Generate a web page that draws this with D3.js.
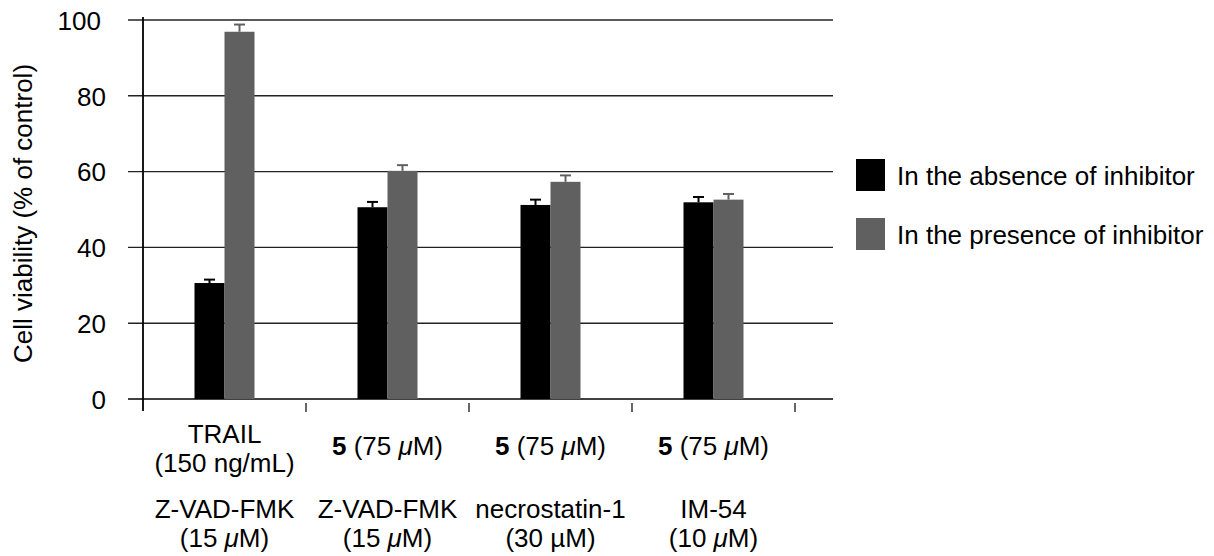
<!DOCTYPE html>
<html>
<head>
<meta charset="utf-8">
<script src="https://cdn.jsdelivr.net/npm/d3@7"></script>
<style>
  html, body { margin: 0; padding: 0; background: #fff; }
  svg text { font-family: "Liberation Sans", Arial, Helvetica, sans-serif; fill: #000; }
</style>
</head>
<body>
<svg id="chart" width="1214" height="556"></svg>
<script>
// Cell viability with and without inhibitor, per treatment group
const groups = ["TRAIL", "5 + Z-VAD-FMK", "5 + necrostatin-1", "5 + IM-54"];
const seriesNames = ["In the absence of inhibitor", "In the presence of inhibitor"];
const absence = [30.6, 50.6, 51.2, 51.9];
const absenceErr = [0.9, 1.4, 1.4, 1.4];
const presence = [96.9, 60.2, 57.3, 52.6];
const presenceErr = [1.9, 1.5, 1.7, 1.5];
const yTicks = [0, 20, 40, 60, 80, 100];
// Axis labels: **bold**, *italic*
const inducerLabels = [["TRAIL", "(150 ng/mL)"], ["**5** (75 *μ*M)"], ["**5** (75 *μ*M)"], ["**5** (75 *μ*M)"]];
const inhibitorLabels = [["Z-VAD-FMK", "(15 *μ*M)"], ["Z-VAD-FMK", "(15 *μ*M)"], ["necrostatin-1", "(30 µM)"], ["IM-54", "(10 *μ*M)"]];
const colors = ["#000000", "#606060"];

const svg = d3.select("#chart");
const FS = 26;

const x0 = d3.scaleBand().domain(groups).range([143, 795]).paddingInner(0).paddingOuter(0);
const x1 = d3.scaleBand().domain([0, 1]).range([x0.bandwidth() / 2 - 30, x0.bandwidth() / 2 + 30]);
const y = d3.scaleLinear().domain([0, 100]).range([399, 20]);

const gridLeft = 128, gridRight = 833;

// Horizontal gridlines (also serve as the y ticks)
svg.append("g").selectAll("line").data(yTicks).join("line")
  .attr("x1", gridLeft).attr("x2", gridRight)
  .attr("y1", d => y(d)).attr("y2", d => y(d))
  .attr("stroke", d => d === 0 ? "#000" : "#222").attr("stroke-width", 1.4);

// Y tick labels
svg.append("g").selectAll("text").data(yTicks).join("text")
  .attr("x", d => d === 100 ? 101 : 106).attr("y", d => y(d)).attr("dy", "0.38em")
  .attr("text-anchor", "end").attr("font-size", FS)
  .text(d => d);

// Y axis line
svg.append("line").attr("x1", 143).attr("x2", 143)
  .attr("y1", y(100) - 3).attr("y2", 411)
  .attr("stroke", "#000").attr("stroke-width", 1.8);

// X ticks at group boundaries
const bounds = groups.map(g => x0(g)).concat([x0(groups[groups.length - 1]) + x0.bandwidth()]);
svg.append("g").selectAll("line").data(bounds.slice(1)).join("line")
  .attr("x1", d => d).attr("x2", d => d)
  .attr("y1", 403).attr("y2", 412)
  .attr("stroke", "#000").attr("stroke-width", 1.2);

// Y axis title
svg.append("text")
  .attr("transform", `translate(32,${(y(0) + y(100)) / 2 + 4}) rotate(-90)`)
  .attr("text-anchor", "middle").attr("font-size", FS)
  .text("Cell viability (% of control)");

// Bars + upper error bars
const series = [
  { vals: absence, errs: absenceErr },
  { vals: presence, errs: presenceErr }
];
const barData = [];
groups.forEach((g, i) => series.forEach((s, k) => barData.push({ g, k, v: s.vals[i], e: s.errs[i] })));

const bars = svg.append("g");
bars.selectAll("rect").data(barData).join("rect")
  .attr("x", d => x0(d.g) + x1(d.k))
  .attr("width", x1.bandwidth())
  .attr("y", d => y(d.v))
  .attr("height", d => y(0) - y(d.v))
  .attr("fill", d => colors[d.k]);

const eb = svg.append("g");
eb.selectAll("line.stem").data(barData).join("line").attr("class", "stem")
  .attr("x1", d => x0(d.g) + x1(d.k) + x1.bandwidth() / 2)
  .attr("x2", d => x0(d.g) + x1(d.k) + x1.bandwidth() / 2)
  .attr("y1", d => y(d.v)).attr("y2", d => y(d.v + d.e))
  .attr("stroke", d => colors[d.k]).attr("stroke-width", 2);
eb.selectAll("line.cap").data(barData).join("line").attr("class", "cap")
  .attr("x1", d => x0(d.g) + x1(d.k) + x1.bandwidth() / 2 - 5.5)
  .attr("x2", d => x0(d.g) + x1(d.k) + x1.bandwidth() / 2 + 5.5)
  .attr("y1", d => y(d.v + d.e)).attr("y2", d => y(d.v + d.e))
  .attr("stroke", d => colors[d.k]).attr("stroke-width", 2);

// Rich-text helper: **bold**, *italic*
function richText(sel, str) {
  const parts = str.split(/(\*\*[^*]+\*\*|\*[^*]+\*)/).filter(p => p.length);
  parts.forEach(p => {
    const t = sel.append("tspan");
    if (p.startsWith("**")) t.attr("font-weight", "bold").text(p.slice(2, -2));
    else if (p.startsWith("*")) t.attr("font-style", "italic").text(p.slice(1, -1));
    else t.text(p);
  });
}

// Category labels
groups.forEach((g, i) => {
  const cx = x0(g) + x0.bandwidth() / 2;
  const ind = inducerLabels[i];
  const indY = ind.length === 2 ? [443, 472] : [455];
  ind.forEach((line, j) => {
    const t = svg.append("text").attr("x", cx).attr("y", indY[j])
      .attr("text-anchor", "middle").attr("font-size", FS);
    richText(t, line);
  });
  inhibitorLabels[i].forEach((line, j) => {
    const t = svg.append("text").attr("x", cx).attr("y", 518 + j * 29)
      .attr("text-anchor", "middle").attr("font-size", FS);
    richText(t, line);
  });
});

// Legend
const legend = svg.append("g");
seriesNames.forEach((name, k) => {
  const ly = 159 + k * 59;
  legend.append("rect").attr("x", 856).attr("y", ly).attr("width", 29).attr("height", 32)
    .attr("fill", colors[k]);
  legend.append("text").attr("x", 897).attr("y", ly + 26).attr("font-size", FS).text(name);
});
</script>
</body>
</html>
